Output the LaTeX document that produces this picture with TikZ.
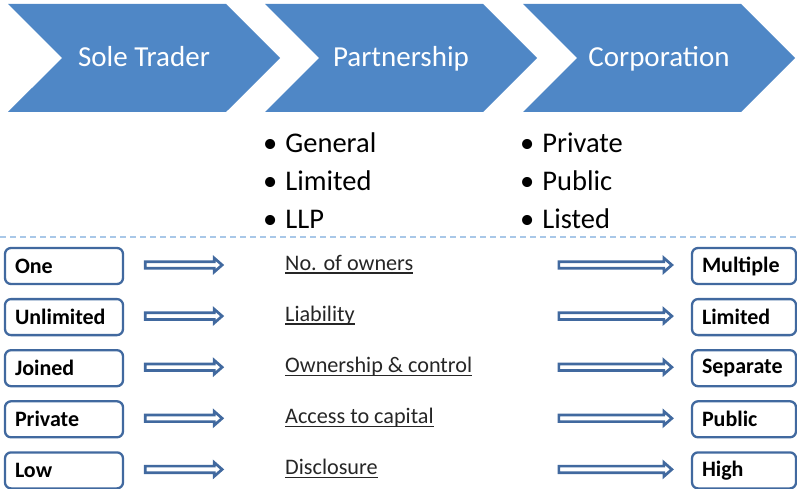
\documentclass[tikz,border=0pt]{standalone}
\usepackage{fontspec}
\setmainfont{Carlito}
\usetikzlibrary{shapes.symbols,calc}
\definecolor{chev}{HTML}{4F87C6}
\definecolor{edgeblue}{HTML}{41699F}
\definecolor{dashblue}{HTML}{A9C8E8}
\definecolor{labcol}{HTML}{262626}
\tikzset{
  chevron/.style={shape=signal, signal from=west, signal to=east, signal pointer angle=90,
    fill=chev, draw=none, text=white, minimum width=272pt, minimum height=108pt,
    inner sep=0pt, text height=22pt, text depth=4pt, font=\fontsize{29}{34}\selectfont},
  bullitem/.style={anchor=base west, inner sep=0pt, text=black, font=\fontsize{28.5}{34}\selectfont},
  leftbox/.style={draw=edgeblue, line width=2.3pt, rounded corners=6pt, fill=white,
    minimum height=36pt, text width=98pt, inner xsep=10pt, align=left,
    font=\bfseries\fontsize{22}{26}\selectfont},
  rightbox/.style={leftbox, text width=84pt},
  midlabel/.style={anchor=base west, inner sep=0pt, text=labcol, font=\fontsize{22.2}{27}\selectfont},
  uline/.style={draw=labcol, line width=1.4pt},
  dblarrow/.style={draw=edgeblue, fill=white, line width=2.7pt, line join=miter},
  sepline/.style={draw=dashblue, line width=1.1pt, dash pattern=on 6pt off 4pt}
}
\begin{document}
\begin{tikzpicture}[x=1pt,y=-1pt]
\useasboundingbox (0,0) rectangle (797,489);
% chevrons
\node[chevron] (c1) at (144,58) {Sole Trader};
\node[chevron] (c2) at (401,58) {Partnership};
\node[chevron] (c3) at (659,58) {Corporation};
% bullet lists
\node[bullitem] (p1) at (263,153) {•\hspace{8pt}General};
\node[bullitem] (p2) at (263,190.5) {•\hspace{8pt}Limited};
\node[bullitem] (p3) at (263,228) {•\hspace{8pt}LLP};
\node[bullitem] (k1) at (520,153) {•\hspace{8pt}Private};
\node[bullitem] (k2) at (520,190.5) {•\hspace{8pt}Public};
\node[bullitem] (k3) at (520,228) {•\hspace{8pt}Listed};
% separator
\coordinate (sa) at (0,237);
\coordinate (sb) at (797,237);
\draw[sepline] (sa) -- (sb);
% rows
\foreach \i/\l/\m/\r in {1/One/No. of owners/Multiple,
                         2/Unlimited/Liability/Limited,
                         3/Joined/Ownership \& control/Separate,
                         4/Private/Access to capital/Public,
                         5/Low/Disclosure/High}{
  \pgfmathsetmacro\yy{266+51.1*(\i-1)}
  \node[leftbox] (L\i) at (64,\yy) {\l};
  \node[rightbox] (R\i) at (744,\yy) {\r};
  \node[midlabel] (M\i) at (285,\yy+4) {\m};
  \draw[uline] ($(M\i.base west)+(0,3)$) -- ($(M\i.base east)+(0,3)$);
  \coordinate (as\i) at ($(L\i.east)+(21,-1)$);
  \coordinate (ae\i) at ($(L\i.east)+(98,-1)$);
  \coordinate (bs\i) at ($(R\i.west)+(-132,-1)$);
  \coordinate (be\i) at ($(R\i.west)+(-19,-1)$);
  \path[dblarrow] ($(as\i)+(0,-3.3)$) -- ($(ae\i)+(-8,-3.3)$) -- ($(ae\i)+(-8,-7)$) -- (ae\i)
     -- ($(ae\i)+(-8,7)$) -- ($(ae\i)+(-8,3.3)$) -- ($(as\i)+(0,3.3)$) -- cycle;
  \path[dblarrow] ($(bs\i)+(0,-3.3)$) -- ($(be\i)+(-8,-3.3)$) -- ($(be\i)+(-8,-7)$) -- (be\i)
     -- ($(be\i)+(-8,7)$) -- ($(be\i)+(-8,3.3)$) -- ($(bs\i)+(0,3.3)$) -- cycle;
}
\end{tikzpicture}
\end{document}
